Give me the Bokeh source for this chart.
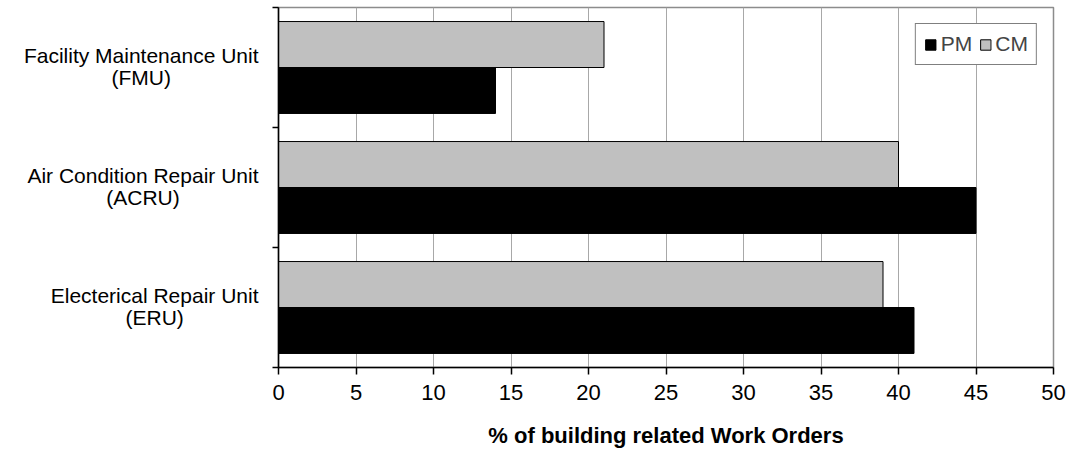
from bokeh.plotting import figure
from bokeh.layouts import row
from bokeh.models import FixedTicker, Range1d, Legend, LegendItem, ColumnDataSource
from bokeh.core.properties import value
from bokeh.embed import file_html
from bokeh.resources import INLINE

# Work-order shares per maintenance unit (bottom to top)
unit_names = ["Electerical Repair Unit",
              "Air Condition Repair Unit",
              "Facility Maintenance Unit"]
unit_codes = ["(ERU)", "(ACRU)", "(FMU)"]
pm_values = [41, 45, 14]
cm_values = [39, 40, 21]
x_ticks = [0, 5, 10, 15, 20, 25, 30, 35, 40, 45, 50]

FONT = "Liberation Sans"
LABEL_PX = 21
BAR_H = 0.383
LABEL_W = 270          # width of the category-label column (px)
LABEL_RIGHT = 258      # right edge of the first label line (px)
centers = [i + 0.5 for i in range(len(unit_names))]
y_range = Range1d(0, len(unit_names))

# Arial / Liberation Sans advance widths (1/1000 em), used to centre the
# second label line under the first one
ADV = {" ": 278, "(": 333, ")": 333, "A": 667, "C": 722, "E": 667, "F": 611,
       "M": 833, "R": 722, "U": 722, "a": 556, "c": 500, "d": 556, "e": 556,
       "i": 222, "l": 222, "n": 556, "o": 556, "p": 556, "r": 333, "t": 278,
       "y": 500, "u": 556}


def text_width(s, px):
    return sum(ADV.get(ch, 556) for ch in s) * px / 1000.0


src = ColumnDataSource(dict(
    pm_y=[c - BAR_H / 2 for c in centers],
    cm_y=[c + BAR_H / 2 for c in centers],
    pm=pm_values,
    cm=cm_values,
))

# ---- category label column ----
lab = figure(width=LABEL_W, height=452, output_backend="svg", toolbar_location=None,
             x_range=Range1d(0, LABEL_W), y_range=y_range,
             min_border_left=0, min_border_right=0, min_border_top=7,
             min_border_bottom=85)
lab.axis.visible = False
lab.grid.visible = False
lab.outline_line_color = None
lab_src = ColumnDataSource(dict(
    y=centers, name=unit_names, code=unit_codes,
    name_x=[LABEL_RIGHT] * len(unit_names),
    code_x=[LABEL_RIGHT - text_width(n, LABEL_PX) / 2 for n in unit_names],
))
lab.text(x="name_x", y="y", text="name", source=lab_src, y_offset=-12,
         text_align="right", text_baseline="middle",
         text_font=value(FONT), text_font_size=f"{LABEL_PX}px", text_color="black")
lab.text(x="code_x", y="y", text="code", source=lab_src, y_offset=10,
         text_align="center", text_baseline="middle",
         text_font=value(FONT), text_font_size=f"{LABEL_PX}px", text_color="black")

# ---- bar chart ----
p = figure(width=1069 - LABEL_W, height=452, output_backend="svg", toolbar_location=None,
           x_range=Range1d(0, 50), y_range=y_range,
           min_border_left=278 - LABEL_W, min_border_right=16, min_border_top=7,
           min_border_bottom=85)

r_cm = p.hbar(y="cm_y", right="cm", left=0, height=BAR_H, source=src,
              fill_color="#c0c0c0", line_color="black", line_width=1)
r_pm = p.hbar(y="pm_y", right="pm", left=0, height=BAR_H, source=src,
              fill_color="black", line_color="black", line_width=1)

# frame and grid
p.outline_line_color = "#8c8c8c"
p.outline_line_width = 1.5
p.ygrid.visible = False
p.xgrid.ticker = FixedTicker(ticks=x_ticks)
p.xgrid.grid_line_color = "#a8a8a8"
p.xgrid.grid_line_width = 1

# x axis
xa = p.xaxis[0]
xa.ticker = FixedTicker(ticks=x_ticks)
xa.axis_line_color = "black"
xa.axis_line_width = 1.5
xa.major_tick_out = 7
xa.major_tick_in = 0
xa.major_tick_line_color = "black"
xa.major_tick_line_width = 1.5
xa.minor_tick_line_color = None
xa.major_label_text_font = FONT
xa.major_label_text_font_size = "22px"
xa.major_label_text_color = "black"
xa.major_label_standoff = 10
xa.axis_label = "% of building related Work Orders"
xa.axis_label_text_font = FONT
xa.axis_label_text_font_size = "22px"
xa.axis_label_text_font_style = "bold"
xa.axis_label_text_color = "black"
xa.axis_label_standoff = 20

# y axis: tick marks at band boundaries only
ya = p.yaxis[0]
ya.ticker = FixedTicker(ticks=[], minor_ticks=list(range(len(unit_names) + 1)))
ya.axis_line_color = "black"
ya.axis_line_width = 1.5
ya.major_tick_out = 0
ya.major_tick_in = 0
ya.minor_tick_out = 6
ya.minor_tick_in = 0
ya.minor_tick_line_color = "black"
ya.minor_tick_line_width = 1.5
ya.major_label_text_font_size = "0px"
ya.major_label_standoff = 0

legend = Legend(items=[LegendItem(label="PM", renderers=[r_pm]),
                       LegendItem(label="CM", renderers=[r_cm])],
                location="top_right", orientation="horizontal",
                margin=16, padding=8, spacing=6, label_standoff=4,
                glyph_width=13, glyph_height=13,
                label_text_font=FONT, label_text_font_size="21px",
                label_height=21,
                border_line_color="black", border_line_width=1.2,
                background_fill_color="white", background_fill_alpha=1)
p.add_layout(legend)

layout = row(lab, p, spacing=0)
open("out.html", "w").write(file_html(layout, INLINE))
